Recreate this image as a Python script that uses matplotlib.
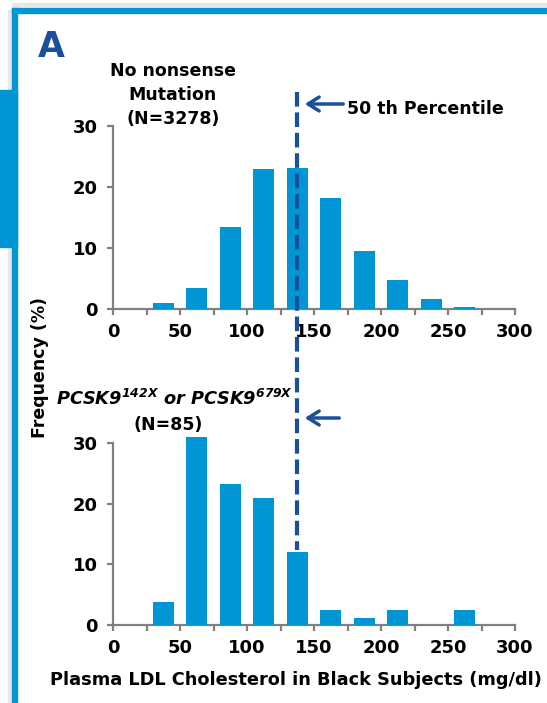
import numpy as np
import matplotlib.pyplot as plt
from matplotlib.lines import Line2D
from matplotlib.patches import Rectangle, FancyArrowPatch
import matplotlib.transforms as mtransforms

# bin centres (mg/dl) and frequencies (%)
bins = [37.5, 62.5, 87.5, 112.5, 137.5, 162.5, 187.5, 212.5, 237.5, 262.5]
freq_no_mut = [1.0, 3.5, 13.4, 23.0, 23.1, 18.2, 9.5, 4.7, 1.6, 0.4]
freq_pcsk9 = [3.8, 31.0, 23.2, 20.9, 12.0, 2.4, 1.2, 2.4, 0.0, 2.4]
median_ldl = 137
xticks = [0, 50, 100, 150, 200, 250, 300]
yticks = [0, 10, 20, 30]

W, H = 547, 703
BAR = '#0096d6'
DARK = '#1a4f9c'
plt.rcParams['font.family'] = ['DejaVu Sans']
plt.rcParams['font.weight'] = 'bold'

fig = plt.figure(figsize=(W / 100, H / 100), dpi=100)


def fx(px):
    return px / W


def fy(py):
    return 1 - py / H


# frame
fig.patches.append(Rectangle((fx(8), 0), fx(5), fy(10), transform=fig.transFigure,
                             color='#e8e8e8', zorder=0))
fig.patches.append(Rectangle((fx(12), fy(6)), 1, 3 / H, transform=fig.transFigure,
                             color='#e8e8e8', zorder=0))
fig.patches.append(Rectangle((fx(12), 0), fx(5), fy(8), transform=fig.transFigure,
                             color=BAR, zorder=1))
fig.patches.append(Rectangle((fx(12), fy(13)), 1, 5 / H, transform=fig.transFigure,
                             color=BAR, zorder=1))
fig.patches.append(Rectangle((0, fy(247)), fx(17), 157 / H, transform=fig.transFigure,
                             color=BAR, zorder=2))

ax1 = fig.add_axes([fx(113), fy(309), fx(515) - fx(113), 183 / H])
ax2 = fig.add_axes([fx(113), fy(625), fx(515) - fx(113), 182 / H])

for ax, vals in [(ax1, freq_no_mut), (ax2, freq_pcsk9)]:
    ax.bar(bins, vals, width=15.5, color=BAR, clip_on=False, zorder=3)
    ax.set_xlim(0, 300)
    ax.set_ylim(0, 30)
    ax.set_xticks(np.arange(0, 301, 25))
    ax.set_xticklabels([str(v) if v in xticks else '' for v in np.arange(0, 301, 25)])
    ax.set_yticks(yticks)
    for s in ['top', 'right']:
        ax.spines[s].set_visible(False)
    for s in ['left', 'bottom']:
        ax.spines[s].set_color('#808080')
        ax.spines[s].set_linewidth(1.6)
    ax.tick_params(axis='both', colors='#808080', width=1.6, length=4, labelsize=13,
                   labelcolor='black')
    ax.tick_params(axis='x', pad=6)
    ax.tick_params(axis='y', pad=7)
    for lab in ax.get_xticklabels() + ax.get_yticklabels():
        lab.set_fontweight('bold')

fig.text(fx(296), fy(680), 'Plasma LDL Cholesterol in Black Subjects (mg/dl)', fontsize=12.8,
         fontweight='bold', ha='center', va='center')

# median line across both panels
tr = mtransforms.blended_transform_factory(ax1.transData, fig.transFigure)
fig.add_artist(Line2D([median_ldl, median_ldl], [fy(92), fy(550)], transform=tr,
                      color=DARK, lw=3, linestyle=(0, (3.5, 1.4)), zorder=5))

# arrows
fig.add_artist(FancyArrowPatch((fx(346), fy(104)), (fx(302), fy(104)),
                               transform=fig.transFigure, arrowstyle='->,head_length=8,head_width=5',
                               color=DARK, lw=2.5))
fig.add_artist(FancyArrowPatch((fx(342), fy(418)), (fx(302), fy(418)),
                               transform=fig.transFigure, arrowstyle='->,head_length=8,head_width=5',
                               color=DARK, lw=2.5))

fig.text(fx(38), fy(47), 'A', fontsize=25, fontweight='bold', color=DARK, va='center')
fig.text(fx(173), fy(95), 'No nonsense\nMutation\n(N=3278)', fontsize=12.5, fontweight='bold',
         ha='center', va='center', linespacing=1.45)
fig.text(fx(347), fy(109), '50 th Percentile', fontsize=12.5, fontweight='bold',
         ha='left', va='center')
fig.text(fx(174), fy(399),
         r'$\mathbfit{PCSK9}^{\mathbfit{142X}}\ \mathbfit{or}\ \mathbfit{PCSK9}^{\mathbfit{679X}}$',
         fontsize=12.8, ha='center', va='center')
fig.text(fx(168), fy(425), '(N=85)', fontsize=12.5, fontweight='bold', ha='center', va='center')
fig.text(fx(40), fy(368), 'Frequency (%)', fontsize=12.5, fontweight='bold', rotation=90,
         ha='center', va='center')

fig.savefig('out.png', dpi=100)
